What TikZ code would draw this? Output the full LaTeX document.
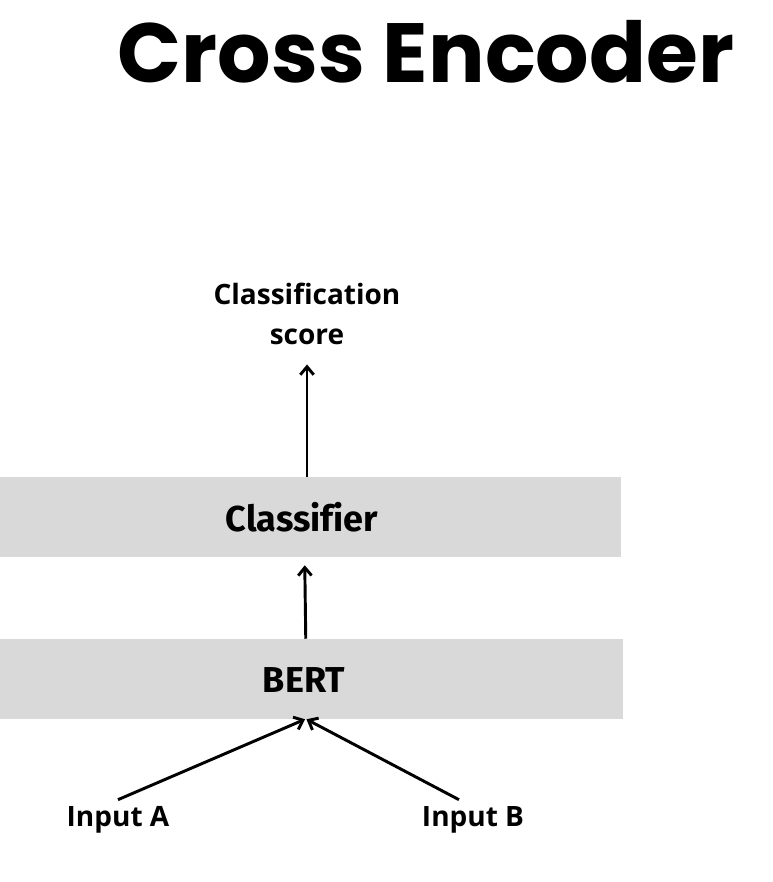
\documentclass[tikz,border=0pt]{standalone}
\usepackage{fontspec}
\setmainfont{Open Sans}
\newfontfamily\titlefont{Poppins}
\newfontfamily\layerfont{Fira Sans}[Ligatures=CommonOff]
\usetikzlibrary{arrows.meta,positioning}

\tikzset{
    layer/.style={fill=black!15, minimum width=465.75pt, minimum height=60pt, inner sep=0pt},
    layertext/.style={font=\layerfont\fontsize{27}{30}\selectfont\bfseries, inner sep=0pt},
    lbl/.style={font=\fontsize{21}{30}\selectfont\bfseries, align=center, inner sep=0pt},
    flow/.style={line width=2.2pt, -{Straight Barb[length=6pt,width=10pt,line width=2.2pt]}}
}

\begin{document}
\begin{tikzpicture}[x=0.75pt,y=-0.75pt]
    \useasboundingbox (0,0) rectangle (772,882);
    % title
    \node[font=\titlefont\fontsize{63}{70}\selectfont\bfseries] (title) at (426,52) {Cross Encoder};

    % output
    \node[lbl] (score) at (307,314) {Classification\\score};

    % layers
    \node[layer, anchor=west] (classifier) at (0,517) {};
    \node[layertext] (clstext) at (302,517) {Classifier};
    \node[layer, anchor=west, minimum width=467.25pt] (bert) at (0,679) {};
    \node[layertext] (berttext) at (304,680) {BERT};

    % inputs
    \node[lbl] (inA) at (118,820) {Input A};
    \node[lbl] (inB) at (473,820) {Input B};

    \draw[flow] (classifier.north -| score) -- ([yshift=-14.5pt]score.south);
    \draw[flow] ([xshift=-4.5pt]bert.north) -- ([xshift=-4.5pt,yshift=-6pt]classifier.south);
    \draw[flow] ([yshift=5pt]inA.north) -- ([xshift=-5pt]bert.south);
    \draw[flow] ([xshift=-10.5pt,yshift=5pt]inB.north) -- ([xshift=-4pt]bert.south);
\end{tikzpicture}
\end{document}
